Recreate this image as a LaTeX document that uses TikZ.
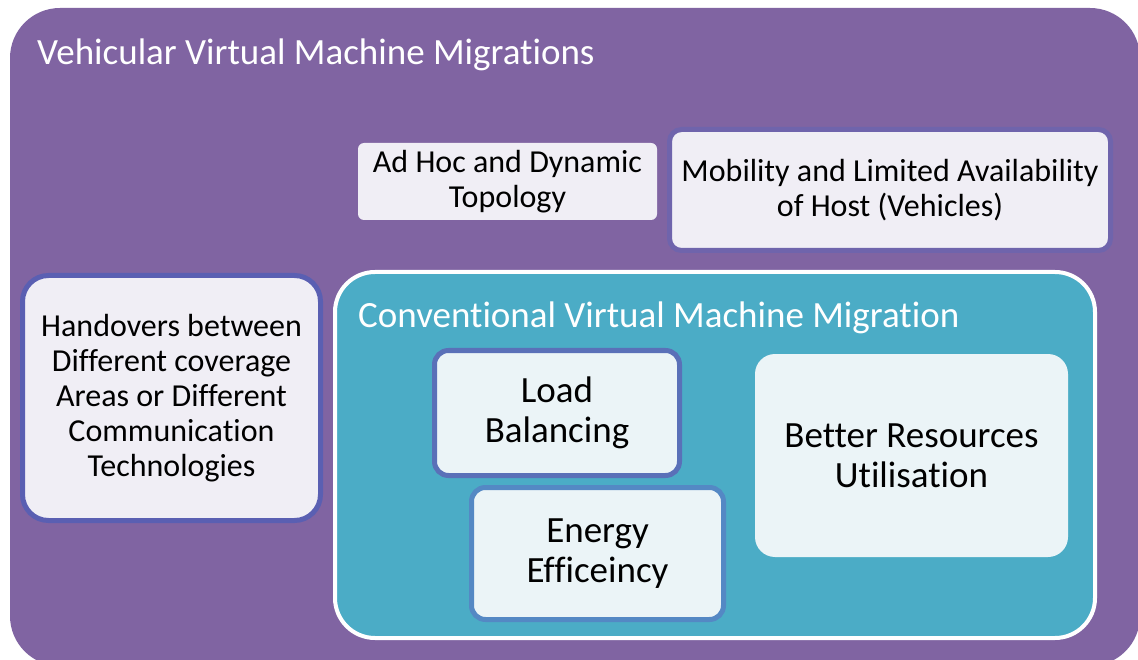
\documentclass[tikz,border=0pt]{standalone}
\usepackage{fontspec}
\setmainfont{Carlito}[Renderer=HarfBuzz, RawFeature={-liga;-clig;-calt;-dlig;-rlig}]
\definecolor{outerpurple}{HTML}{8064A2}
\definecolor{innerteal}{HTML}{4BACC6}
\definecolor{lavender}{HTML}{F0EEF5}
\definecolor{paleblue}{HTML}{EBF4F7}
\definecolor{edgepurple}{HTML}{6F64AC}
\definecolor{edgeindigo}{HTML}{5A5FB2}
\definecolor{edgeblue}{HTML}{5A70B8}
\definecolor{edgesky}{HTML}{5488C4}
\tikzset{
  x=1pt, y=-1pt,
  card/.style={rounded corners=#1, align=center, text=black, inner sep=0pt},
  card/.default=12pt,
  smalltext/.style={font=\fontsize{32}{35}\selectfont},
  bigtext/.style={font=\fontsize{37}{40}\selectfont},
  heading/.style={text=white, anchor=base west, inner sep=0pt, font=\fontsize{37}{40}\selectfont},
}
\begin{document}
\begin{tikzpicture}
\useasboundingbox (0,0) rectangle (1138,660);
\clip (0,0) rectangle (1138,660);
\fill[white] (0,0) rectangle (1138,660);

% outer container
\node[fill=outerpurple, rounded corners=50pt, minimum width=1130pt, minimum height=658pt, inner sep=0pt] (outer) at (575,337) {};
\node[heading] (outertitle) at (37,65) {Vehicular Virtual Machine Migrations};

% challenges specific to vehicles
\node[card=6pt, smalltext, fill=lavender, minimum width=299pt, minimum height=77pt] (adhoc) at (507.5,181.5) {Ad Hoc and Dynamic\\Topology};
\node[card=12pt, smalltext, fill=lavender, draw=edgepurple, line width=5pt, minimum width=441pt, minimum height=121pt] (mobility) at (890,190) {Mobility and Limited Availability\\of Host (Vehicles)};
\node[card=26pt, smalltext, fill=lavender, draw=edgeindigo, line width=5pt, minimum width=298pt, minimum height=245pt] (handover) at (171.5,398) {Handovers between\\Different coverage\\Areas or Different\\Communication\\Technologies};

% conventional migration container
\node[fill=innerteal, draw=white, line width=4pt, rounded corners=40pt, minimum width=760pt, minimum height=366pt, inner sep=0pt] (inner) at (715,455) {};
\node[heading] (innertitle) at (358,327) {Conventional Virtual Machine Migration};

% goals of conventional migration
\node[card=14pt, bigtext, fill=paleblue, draw=edgeblue, line width=5pt, minimum width=245pt, minimum height=125pt] (load) at (557,413) {Load\\Balancing};
\node[card=14pt, bigtext, fill=paleblue, draw=edgesky, line width=5pt, minimum width=252pt, minimum height=132pt] (energy) at (597.5,553.5) {Energy\\Efficeincy};
\node[card=20pt, bigtext, fill=paleblue, minimum width=313pt, minimum height=203pt] (better) at (911.5,455.5) {Better Resources\\Utilisation};
\end{tikzpicture}
\end{document}
